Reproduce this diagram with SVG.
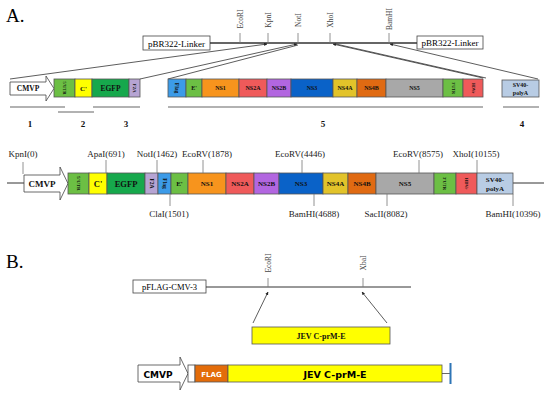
<svg xmlns="http://www.w3.org/2000/svg" width="550" height="394" viewBox="0 0 550 394">
<style>
.serif{font-family:"Liberation Serif","Times New Roman",serif;}
.sans{font-family:"DejaVu Sans","Liberation Sans",sans-serif;}
.box{stroke:#555;stroke-width:0.8;}
.lbl{font-family:"Liberation Serif",serif;font-weight:bold;fill:#111;text-anchor:middle;}
.site{font-family:"Liberation Serif",serif;font-size:7.5px;fill:#444;text-anchor:middle;}
.msite{font-family:"Liberation Serif",serif;font-size:9px;fill:#222;text-anchor:middle;}
.tick{stroke:#777;stroke-width:0.8;}
.conn{stroke:#333;stroke-width:0.8;fill:none;}
.ul{stroke:#666;stroke-width:1.2;}
.num{font-family:"Liberation Serif",serif;font-size:9px;font-weight:bold;text-anchor:middle;fill:#111;}
</style>
<defs>
<marker id="ah" viewBox="0 0 6 6" refX="5.5" refY="3" markerWidth="4" markerHeight="4" orient="auto"><path d="M0,0 L6,3 L0,6 Z" fill="#222"/></marker>
</defs>
<rect width="550" height="394" fill="#fff"/>

<text x="6" y="22" class="serif" font-size="19">A.</text>
<text x="6" y="268" class="serif" font-size="19">B.</text>

<!-- Top linker -->
<g id="linkerL"><rect x="143" y="36" width="67" height="14" fill="#fff" stroke="#444" stroke-width="0.8"/><text x="176.5" y="46.5" class="serif" font-size="9" text-anchor="middle">pBR322-Linker</text></g>
<g id="linkerR"><rect x="417" y="36" width="66" height="13" fill="#fff" stroke="#444" stroke-width="0.8"/><text x="450" y="46" class="serif" font-size="9" text-anchor="middle">pBR322-Linker</text></g>
<line x1="210" y1="43" x2="417" y2="43" stroke="#333" stroke-width="1.6"/>
<g id="sitesTop">
<line class="tick" x1="240" y1="33" x2="240" y2="43"/><text class="site" transform="translate(240,19) rotate(-90)" dy="0.35em">EcoRI</text>
<line class="tick" x1="268" y1="33" x2="268" y2="43"/><text class="site" transform="translate(268,20) rotate(-90)" dy="0.35em">KpnI</text>
<line class="tick" x1="298" y1="33" x2="298" y2="43"/><text class="site" transform="translate(298,20) rotate(-90)" dy="0.35em">NotI</text>
<line class="tick" x1="330" y1="33" x2="330" y2="43"/><text class="site" transform="translate(330,20) rotate(-90)" dy="0.35em">XhoI</text>
<line class="tick" x1="389" y1="33" x2="389" y2="43"/><text class="site" transform="translate(389,19) rotate(-90)" dy="0.35em">BamHI</text>
</g>

<g id="connectors">
<line class="conn" x1="10" y1="79" x2="267" y2="44" marker-end="url(#ah)"/>
<line class="conn" x1="140" y1="79" x2="297" y2="44" marker-end="url(#ah)"/>
<line class="conn" x1="168" y1="79" x2="298" y2="45"/>
<line class="conn" x1="483" y1="78" x2="333" y2="44" marker-end="url(#ah)"/>
<line class="conn" x1="486" y1="78" x2="336" y2="44"/>
<line class="conn" x1="538" y1="79" x2="390" y2="44" marker-end="url(#ah)"/>
<line class="conn" x1="253" y1="323" x2="268" y2="292" marker-end="url(#ah)"/>
<line class="conn" x1="387" y1="323" x2="362" y2="292" marker-end="url(#ah)"/>
</g>

<!-- Top row fragments -->
<g id="frag1"><path d="M10,82 L46,82 L46,76 L54,88.5 L46,101 L46,95 L10,95 Z" fill="#fff" stroke="#444" stroke-width="0.8"/><text x="28" y="91" class="lbl" font-size="7.5">CMVP</text></g>
<g id="frag2">
<rect class="box" x="54" y="79" width="21" height="18" fill="#6CBF44"/><text class="lbl" font-size="4.5" transform="translate(64.5,88) rotate(90)" dy="0.35em">5'UTR</text>
<rect class="box" x="75" y="79" width="17" height="18" fill="#FFFF00"/><text x="83.5" y="90.5" class="lbl" font-size="7">C'</text>
</g>
<g id="frag3">
<rect class="box" x="92" y="79" width="37" height="18" fill="#16A84C"/><text x="110.5" y="90.5" class="lbl" font-size="7.5">EGFP</text>
<rect class="box" x="129" y="79" width="11" height="18" fill="#B6A4D3"/><text class="lbl" font-size="5" transform="translate(134.5,88) rotate(90)" dy="0.35em">F2A</text>
</g>
<g id="frag5">
<rect class="box" x="168" y="79" width="18" height="18" fill="#3C9BE8"/><text class="lbl" font-size="5.5" transform="translate(177,88) rotate(90)" dy="0.35em">Flag</text>
<rect class="box" x="186" y="79" width="16" height="18" fill="#6CBF44"/><text x="194" y="90" class="lbl" font-size="6">E'</text>
<rect class="box" x="202" y="79" width="37" height="18" fill="#F7941D"/><text x="220.5" y="90" class="lbl" font-size="6">NS1</text>
<rect class="box" x="239" y="79" width="28" height="18" fill="#EF5A5A"/><text x="253" y="90" class="lbl" font-size="6">NS2A</text>
<rect class="box" x="267" y="79" width="24" height="18" fill="#B266E0"/><text x="279" y="90" class="lbl" font-size="6">NS2B</text>
<rect class="box" x="291" y="79" width="42" height="18" fill="#0A62C8"/><text x="312" y="90" class="lbl" font-size="6">NS3</text>
<rect class="box" x="333" y="79" width="24" height="18" fill="#E2C32A"/><text x="345" y="90" class="lbl" font-size="6">NS4A</text>
<rect class="box" x="357" y="79" width="29" height="18" fill="#E06A12"/><text x="371.5" y="90" class="lbl" font-size="6">NS4B</text>
<rect class="box" x="386" y="79" width="57" height="18" fill="#A8A8A8"/><text x="414.5" y="90" class="lbl" font-size="6">NS5</text>
<rect class="box" x="443" y="79" width="20" height="18" fill="#6CBF44"/><text class="lbl" font-size="4" transform="translate(453,88) rotate(90)" dy="0.35em">3'UTR</text>
<rect class="box" x="463" y="79" width="20" height="18" fill="#EF5A5A"/><text class="lbl" font-size="4" transform="translate(473,88) rotate(90)" dy="0.35em">HDVr</text>
</g>
<g id="frag4"><rect class="box" x="502" y="80" width="37" height="17" fill="#B8CCE4"/><text x="520.5" y="87" class="lbl" font-size="6">SV40-</text><text x="520.5" y="94.5" class="lbl" font-size="6">polyA</text></g>

<g id="underlines">
<line class="ul" x1="10" y1="107" x2="65" y2="107"/>
<line class="ul" x1="58" y1="112" x2="94" y2="112"/>
<line class="ul" x1="93" y1="107" x2="140" y2="107"/>
<line class="ul" x1="168" y1="107" x2="483" y2="107"/>
<line class="ul" x1="503" y1="107" x2="539" y2="107"/>
<text x="30" y="127" class="num">1</text>
<text x="83" y="127" class="num">2</text>
<text x="126" y="127" class="num">3</text>
<text x="323" y="127" class="num">5</text>
<text x="522" y="127" class="num">4</text>
</g>

<!-- Middle construct -->
<g id="construct">
<line x1="7" y1="183" x2="24" y2="183" stroke="#333" stroke-width="1"/>
<line x1="513" y1="183" x2="544" y2="183" stroke="#333" stroke-width="1"/>
<path d="M24,175 L60,175 L60,167 L68,183.5 L60,200 L60,192 L24,192 Z" fill="#fff" stroke="#444" stroke-width="0.8"/><text x="42" y="187" class="lbl" font-size="9">CMVP</text>
<rect class="box" x="68" y="173" width="21" height="21" fill="#6CBF44"/><text class="lbl" font-size="5" transform="translate(78.5,183.5) rotate(90)" dy="0.35em">5'UTR</text>
<rect class="box" x="89" y="173" width="18" height="21" fill="#FFFF00"/><text x="98" y="186.5" class="lbl" font-size="8.5">C'</text>
<rect class="box" x="107" y="173" width="38" height="21" fill="#16A84C"/><text x="126" y="186.5" class="lbl" font-size="8.5">EGFP</text>
<rect class="box" x="145" y="173" width="13" height="21" fill="#B6A4D3"/><text class="lbl" font-size="5.5" transform="translate(151.5,183.5) rotate(90)" dy="0.35em">F2A</text>
<rect class="box" x="158" y="173" width="13" height="21" fill="#3C9BE8"/><text class="lbl" font-size="5.5" transform="translate(164.5,183.5) rotate(90)" dy="0.35em">Flag</text>
<rect class="box" x="171" y="173" width="17" height="21" fill="#6CBF44"/><text x="179.5" y="186" class="lbl" font-size="7">E'</text>
<rect class="box" x="188" y="173" width="38" height="21" fill="#F7941D"/><text x="207" y="186" class="lbl" font-size="7">NS1</text>
<rect class="box" x="226" y="173" width="28" height="21" fill="#EF5A5A"/><text x="240" y="186" class="lbl" font-size="7">NS2A</text>
<rect class="box" x="254" y="173" width="25" height="21" fill="#B266E0"/><text x="266.5" y="186" class="lbl" font-size="7">NS2B</text>
<rect class="box" x="279" y="173" width="44" height="21" fill="#0A62C8"/><text x="301" y="186" class="lbl" font-size="7">NS3</text>
<rect class="box" x="323" y="173" width="25" height="21" fill="#E2C32A"/><text x="335.5" y="186" class="lbl" font-size="7">NS4A</text>
<rect class="box" x="348" y="173" width="28" height="21" fill="#E06A12"/><text x="362" y="186" class="lbl" font-size="7">NS4B</text>
<rect class="box" x="376" y="173" width="58" height="21" fill="#A8A8A8"/><text x="405" y="186" class="lbl" font-size="7">NS5</text>
<rect class="box" x="434" y="173" width="22" height="21" fill="#6CBF44"/><text class="lbl" font-size="4.5" transform="translate(445,183.5) rotate(90)" dy="0.35em">3'UTR</text>
<rect class="box" x="456" y="173" width="21" height="21" fill="#EF5A5A"/><text class="lbl" font-size="4.5" transform="translate(466.5,183.5) rotate(90)" dy="0.35em">HDVr</text>
<rect class="box" x="477" y="173" width="36" height="21" fill="#B8CCE4"/><text x="495" y="182" class="lbl" font-size="7">SV40-</text><text x="495" y="190.5" class="lbl" font-size="7">polyA</text>
</g>
<g id="sitesMid">
<line class="tick" x1="23" y1="162" x2="23" y2="174"/><text x="23" y="157" class="msite">KpnI(0)</text>
<line class="tick" x1="106" y1="160" x2="106" y2="173"/><text x="106" y="157" class="msite">ApaI(691)</text>
<line class="tick" x1="157" y1="160" x2="157" y2="173"/><text x="157" y="157" class="msite">NotI(1462)</text>
<line class="tick" x1="203" y1="160" x2="203" y2="173"/><text x="207" y="157" class="msite">EcoRV(1878)</text>
<line class="tick" x1="302" y1="160" x2="302" y2="173"/><text x="300" y="157" class="msite">EcoRV(4446)</text>
<line class="tick" x1="419" y1="160" x2="419" y2="173"/><text x="418" y="157" class="msite">EcoRV(8575)</text>
<line class="tick" x1="477" y1="160" x2="477" y2="173"/><text x="476" y="157" class="msite">XhoI(10155)</text>
<line class="tick" x1="170" y1="194" x2="170" y2="206"/><text x="169" y="217" class="msite">ClaI(1501)</text>
<line class="tick" x1="314" y1="194" x2="314" y2="206"/><text x="314" y="217" class="msite">BamHI(4688)</text>
<line class="tick" x1="387" y1="194" x2="387" y2="206"/><text x="386" y="217" class="msite">SacII(8082)</text>
<line class="tick" x1="513" y1="194" x2="513" y2="206"/><text x="513" y="217" class="msite">BamHI(10396)</text>
</g>

<!-- Section B -->
<g id="pflag"><rect x="133" y="280" width="73" height="13" fill="#fff" stroke="#444" stroke-width="0.8"/><text x="169.5" y="289.5" class="serif" font-size="8.5" text-anchor="middle">pFLAG-CMV-3</text></g>
<line x1="206" y1="287" x2="411" y2="287" stroke="#333" stroke-width="1"/>
<g id="sitesB">
<line class="tick" x1="268" y1="278" x2="268" y2="287"/><text class="site" transform="translate(268,263) rotate(-90)" dy="0.35em">EcoRI</text>
<line class="tick" x1="363" y1="278" x2="363" y2="287"/><text class="site" transform="translate(363,263) rotate(-90)" dy="0.35em">XbaI</text>
</g>
<g id="jevInsert"><rect class="box" x="252" y="327" width="138" height="17" fill="#FFFF00"/><text x="321" y="338.5" class="lbl" font-size="8">JEV C-prM-E</text></g>
<g id="finalB">
<path d="M138,365 L180,365 L180,357 L188,373.5 L180,390 L180,382 L138,382 Z" fill="#fff" stroke="#444" stroke-width="0.8"/><text x="158" y="377.5" class="sans" font-size="9" font-weight="bold" text-anchor="middle">CMVP</text>
<rect x="188" y="365" width="7" height="17" fill="#fff" stroke="#444" stroke-width="0.8"/>
<rect class="box" x="195" y="365" width="33" height="17" fill="#E36C0A"/><text x="211.5" y="376.5" class="sans" font-size="7" font-weight="bold" fill="#fff" text-anchor="middle">FLAG</text>
<rect class="box" x="228" y="365" width="214" height="17" fill="#FFFF00"/><text x="335" y="377.5" class="sans" font-size="9.5" font-weight="bold" text-anchor="middle">JEV C-prM-E</text>
<line x1="442" y1="373.5" x2="450" y2="373.5" stroke="#444" stroke-width="0.8"/>
<rect x="449.5" y="363" width="2" height="21" fill="#2E75B6"/>
</g>
</svg>
